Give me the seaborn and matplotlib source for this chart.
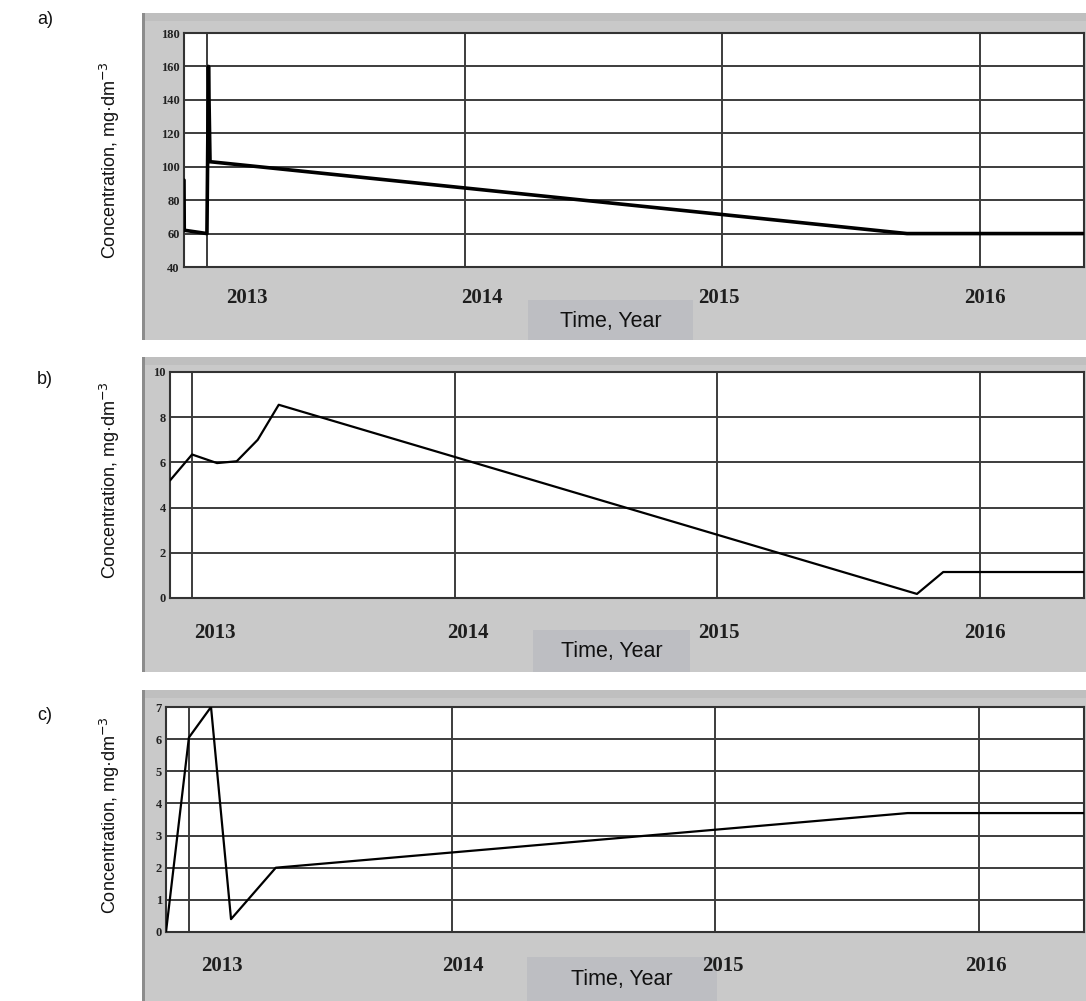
# recreating three concentration vs time panels (a, b, c)
import numpy as np
import pandas as pd
import matplotlib
matplotlib.use("Agg")
import matplotlib.pyplot as plt
from matplotlib.patches import Rectangle
import seaborn as sns

# data (time as decimal year, concentration in mg/dm3)
a_years = [2012.911, 2012.912, 2013.0, 2013.006, 2013.012, 2015.717, 2016.40]
a_conc = [92, 62, 60, 160, 103, 60, 60]

b_years = [2012.916, 2013.0, 2013.095, 2013.17, 2013.25, 2013.33, 2015.76, 2015.86, 2016.40]
b_conc = [5.2, 6.35, 5.97, 6.05, 7.0, 8.55, 0.18, 1.15, 1.15]

c_years = [2012.913, 2013.0, 2013.084, 2013.16, 2013.33, 2015.73, 2016.40]
c_conc = [0.0, 6.05, 7.0, 0.4, 2.0, 3.7, 3.7]

year_labels = ["2013", "2014", "2015", "2016"]
panel_names = ["a)", "b)", "c)"]
ylabel = "Concentration, mg\u00b7dm$^{-3}$"
xlabel = "Time, Year"

sns.set_style("white")
plt.rcParams["font.family"] = ["Liberation Sans", "DejaVu Sans"]

W, H = 1086, 1001
fig = plt.figure(figsize=(W / 100, H / 100), dpi=100)


def fr(x0, y0, x1, y1):
    # pixel box (top-left origin) -> figure fraction [left, bottom, width, height]
    return [x0 / W, 1 - y1 / H, (x1 - x0) / W, (y1 - y0) / H]


def add_rect(x0, y0, x1, y1, color, z):
    fig.patches.append(Rectangle((x0 / W, 1 - y1 / H), (x1 - x0) / W, (y1 - y0) / H,
                                 transform=fig.transFigure, facecolor=color,
                                 edgecolor="none", zorder=z))


# layout of each panel in pixels
panels = [
    dict(frame=(142, 13, 1086, 340), axes=(184, 33, 1084, 267), xlim=(2012.911, 2016.404),
         ylim=(40, 180), major=20, minor=10, lw=2.6,
         lab_pos=[2013.155, 2014.066, 2014.985, 2016.02], pad=15,
         box=(528, 300, 693, 340), name_y=20, ylab_y=160,
         years=a_years, conc=a_conc),
    dict(frame=(142, 357, 1086, 672), axes=(170, 372, 1084, 598), xlim=(2012.916, 2016.396),
         ylim=(0, 10), major=2, minor=1, lw=1.6,
         lab_pos=[2013.088, 2014.05, 2015.004, 2016.02], pad=18,
         box=(533, 630, 690, 672), name_y=380, ylab_y=480,
         years=b_years, conc=b_conc),
    dict(frame=(142, 690, 1086, 1001), axes=(166, 707, 1084, 932), xlim=(2012.913, 2016.40),
         ylim=(0, 7), major=1, minor=0.5, lw=1.6,
         lab_pos=[2013.125, 2014.04, 2015.03, 2016.027], pad=17,
         box=(527, 957, 717, 1001), name_y=715, ylab_y=815,
         years=c_years, conc=c_conc),
]

frame_gray = "#c9c9c9"
box_gray = "#bdbec2"
grid_col = "#3c3c3c"

for i, p in enumerate(panels):
    # gray screenshot frame (kept behind the axes)
    fx0, fy0, fx1, fy1 = p["frame"]
    add_rect(fx0, fy0, fx1, fy1, frame_gray, -5)
    add_rect(fx0, fy0, fx1, fy0 + 8, "#bfbfbf", -4)
    add_rect(fx0, fy0, fx0 + 3, fy1, "#8c8c8c", -4)

    ax = fig.add_axes(fr(*p["axes"]))
    ax.set_zorder(2)
    ax.set_facecolor("white")
    df = pd.DataFrame({"year": p["years"], "conc": p["conc"]})
    sns.lineplot(data=df, x="year", y="conc", ax=ax, color="black", linewidth=p["lw"],
                 sort=False, estimator=None, zorder=5)

    ax.set_xlim(*p["xlim"])
    ax.set_ylim(*p["ylim"])
    ax.set_xlabel("")
    ax.set_ylabel("")

    # vertical grid at year starts, labels offset like the original software
    ax.set_xticks([2013, 2014, 2015, 2016])
    ax.set_xticklabels([])
    ax.set_xticks(p["lab_pos"], minor=True)
    ax.set_xticklabels(year_labels, minor=True, fontfamily="Liberation Serif",
                       fontsize=15, fontweight="bold", color="#1e1e1e")
    ax.tick_params(axis="x", which="both", length=0)
    ax.tick_params(axis="x", which="minor", pad=p["pad"])

    y0, y1 = p["ylim"]
    ax.set_yticks(np.arange(y0, y1 + p["major"] / 2, p["major"]))
    ax.set_yticks(np.arange(y0, y1 + p["minor"] / 2, p["minor"]), minor=True)
    for t in ax.get_yticklabels():
        t.set_fontfamily("Liberation Serif")
        t.set_fontsize(9)
        t.set_fontweight("bold")
        t.set_color("#222222")
    ax.tick_params(axis="y", which="major", length=0, pad=3)
    ax.tick_params(axis="y", which="minor", direction="inout", length=4, width=1, color="#333333")

    ax.grid(True, which="major", axis="both", color=grid_col, linewidth=1.4)
    for s in ax.spines.values():
        s.set_color("#333333")
        s.set_linewidth(1.5)

    # "Time, Year" label on its own box
    bx0, by0, bx1, by1 = p["box"]
    add_rect(bx0, by0, bx1, by1, box_gray, -3)
    fig.text((bx0 + bx1) / 2 / W, 1 - ((by0 + by1) / 2 + 1) / H, xlabel, ha="center",
             va="center", fontsize=15.5, color="#111111")

    fig.text(45 / W, 1 - p["name_y"] / H, panel_names[i], ha="center", va="center",
             fontsize=13, color="#111111")
    fig.text(110 / W, 1 - p["ylab_y"] / H, ylabel, ha="center", va="center",
             rotation=90, fontsize=13, color="#111111")

fig.savefig("out.png", dpi=100, facecolor="white")
